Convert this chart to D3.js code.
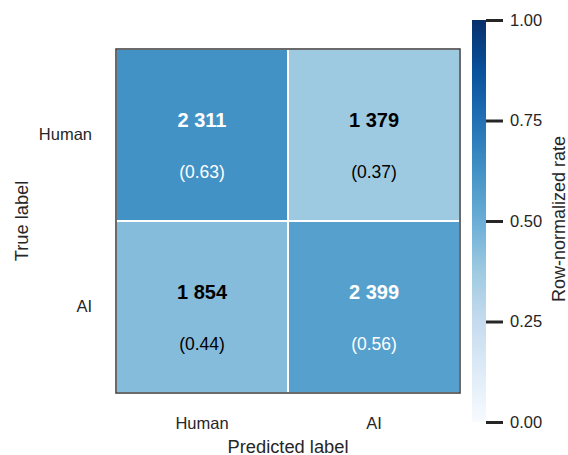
<!DOCTYPE html>
<html>
<head>
<meta charset="utf-8">
<script src="https://cdn.jsdelivr.net/npm/d3@7"></script>
<style>
  html, body { margin: 0; padding: 0; background: #fff; }
  svg { display: block; font-family: "Liberation Sans", Arial, Helvetica, sans-serif; }
</style>
</head>
<body>
<svg id="chart" width="568" height="455"></svg>
<script>
// Confusion matrix: rows = true label, columns = predicted label
const classes = ["Human", "AI"];
const countsHuman = [2311, 1379];
const countsAI = [1854, 2399];
const colorbarTicks = [0, 0.25, 0.5, 0.75, 1.0];
const colorbarTitle = "Row-normalized rate";
const xTitle = "Predicted label";
const yTitle = "True label";

const counts = [countsHuman, countsAI];

// Row-normalized rates, used both for colour and for the printed value
const cells = [];
counts.forEach((row, i) => {
  const total = d3.sum(row);
  row.forEach((c, j) => {
    cells.push({ row: classes[i], col: classes[j], count: c, rate: c / total });
  });
});

// Blues colormap (ColorBrewer 9-class, linearly interpolated)
const bluesStops = ["#f7fbff","#deebf7","#c6dbef","#9ecae1","#6baed6","#4292c6","#2171b5","#08519c","#08306b"];
const color = d3.scaleLinear()
  .domain(bluesStops.map((_, k) => k / (bluesStops.length - 1)))
  .range(bluesStops)
  .interpolate(d3.interpolateRgb)
  .clamp(true);

const svg = d3.select("#chart");
const ink = "#262626";

const plot = { left: 116, top: 49, size: 344 };

const x = d3.scaleBand().domain(classes).range([plot.left, plot.left + plot.size]);
const y = d3.scaleBand().domain(classes).range([plot.top, plot.top + plot.size]);

// Heatmap cells
svg.append("g").selectAll("rect")
  .data(cells)
  .join("rect")
  .attr("x", d => x(d.col))
  .attr("y", d => y(d.row))
  .attr("width", x.bandwidth())
  .attr("height", y.bandwidth())
  .attr("fill", d => color(d.rate))
  .attr("stroke", "#fff")
  .attr("stroke-width", 2);

// Frame around the heatmap
svg.append("rect")
  .attr("x", plot.left)
  .attr("y", plot.top)
  .attr("width", plot.size)
  .attr("height", plot.size)
  .attr("fill", "none")
  .attr("stroke", "#3a3a3a")
  .attr("stroke-width", 1.5);

// Cell annotations: count and rate
const fmtCount = n => d3.format(",")(n).replace(/,/g, " ");
const textColor = d => d.rate > 0.5 ? "#ffffff" : "#000000";

const ann = svg.append("g").attr("text-anchor", "middle");
ann.selectAll("text.count")
  .data(cells)
  .join("text")
  .attr("class", "count")
  .attr("x", d => x(d.col) + x.bandwidth() / 2)
  .attr("y", d => y(d.row) + y.bandwidth() * 0.455)
  .attr("font-size", 20)
  .attr("font-weight", "bold")
  .attr("fill", textColor)
  .text(d => fmtCount(d.count));

ann.selectAll("text.rate")
  .data(cells)
  .join("text")
  .attr("class", "rate")
  .attr("x", d => x(d.col) + x.bandwidth() / 2)
  .attr("y", d => y(d.row) + y.bandwidth() * 0.752)
  .attr("font-size", 17.5)
  .attr("fill", textColor)
  .text(d => `(${d3.format(".2f")(d.rate)})`);

// Axes (labels only, no tick marks)
const xAxis = svg.append("g")
  .attr("transform", `translate(0,${plot.top + plot.size})`)
  .call(d3.axisBottom(x).tickSize(0).tickPadding(0));
xAxis.select(".domain").remove();
xAxis.selectAll("text")
  .attr("dy", null)
  .attr("y", 36)
  .attr("font-size", 16.5)
  .attr("fill", ink);

const yAxis = svg.append("g")
  .attr("transform", `translate(${plot.left},0)`)
  .call(d3.axisLeft(y).tickSize(0).tickPadding(24));
yAxis.select(".domain").remove();
yAxis.selectAll("text")
  .attr("font-size", 16.5)
  .attr("fill", ink);

// Axis titles
svg.append("text")
  .attr("x", plot.left + plot.size / 2)
  .attr("y", 452.5)
  .attr("text-anchor", "middle")
  .attr("font-size", 18.3)
  .attr("fill", ink)
  .text(xTitle);

svg.append("text")
  .attr("transform", `translate(28,${plot.top + plot.size / 2}) rotate(-90)`)
  .attr("text-anchor", "middle")
  .attr("font-size", 18.3)
  .attr("fill", ink)
  .text(yTitle);

// Colorbar
const cb = { x: 472, width: 14, top: 20, bottom: 422 };
const cbScale = d3.scaleLinear().domain([0, 1]).range([cb.bottom, cb.top]);

const grad = svg.append("defs").append("linearGradient")
  .attr("id", "blues")
  .attr("x1", 0).attr("y1", 1).attr("x2", 0).attr("y2", 0);
grad.selectAll("stop")
  .data(d3.range(0, 1.0001, 0.02))
  .join("stop")
  .attr("offset", d => d)
  .attr("stop-color", d => color(d));

svg.append("rect")
  .attr("x", cb.x)
  .attr("y", cb.top)
  .attr("width", cb.width)
  .attr("height", cb.bottom - cb.top)
  .attr("fill", "url(#blues)");

const cbAxis = svg.append("g")
  .attr("transform", `translate(${cb.x + cb.width},0)`)
  .call(d3.axisRight(cbScale).tickValues(colorbarTicks).tickFormat(d3.format(".2f")).tickSize(17).tickPadding(7));
cbAxis.select(".domain").remove();
cbAxis.selectAll(".tick line").attr("stroke", ink).attr("stroke-width", 3);
cbAxis.selectAll(".tick text").attr("font-size", 16.5).attr("fill", ink);

// Strip the axis-level font so every label uses the page font
svg.selectAll("g").attr("font-family", null);

svg.append("text")
  .attr("transform", `translate(565,219) rotate(-90)`)
  .attr("text-anchor", "middle")
  .attr("font-size", 18)
  .attr("fill", ink)
  .text(colorbarTitle);
</script>
</body>
</html>
